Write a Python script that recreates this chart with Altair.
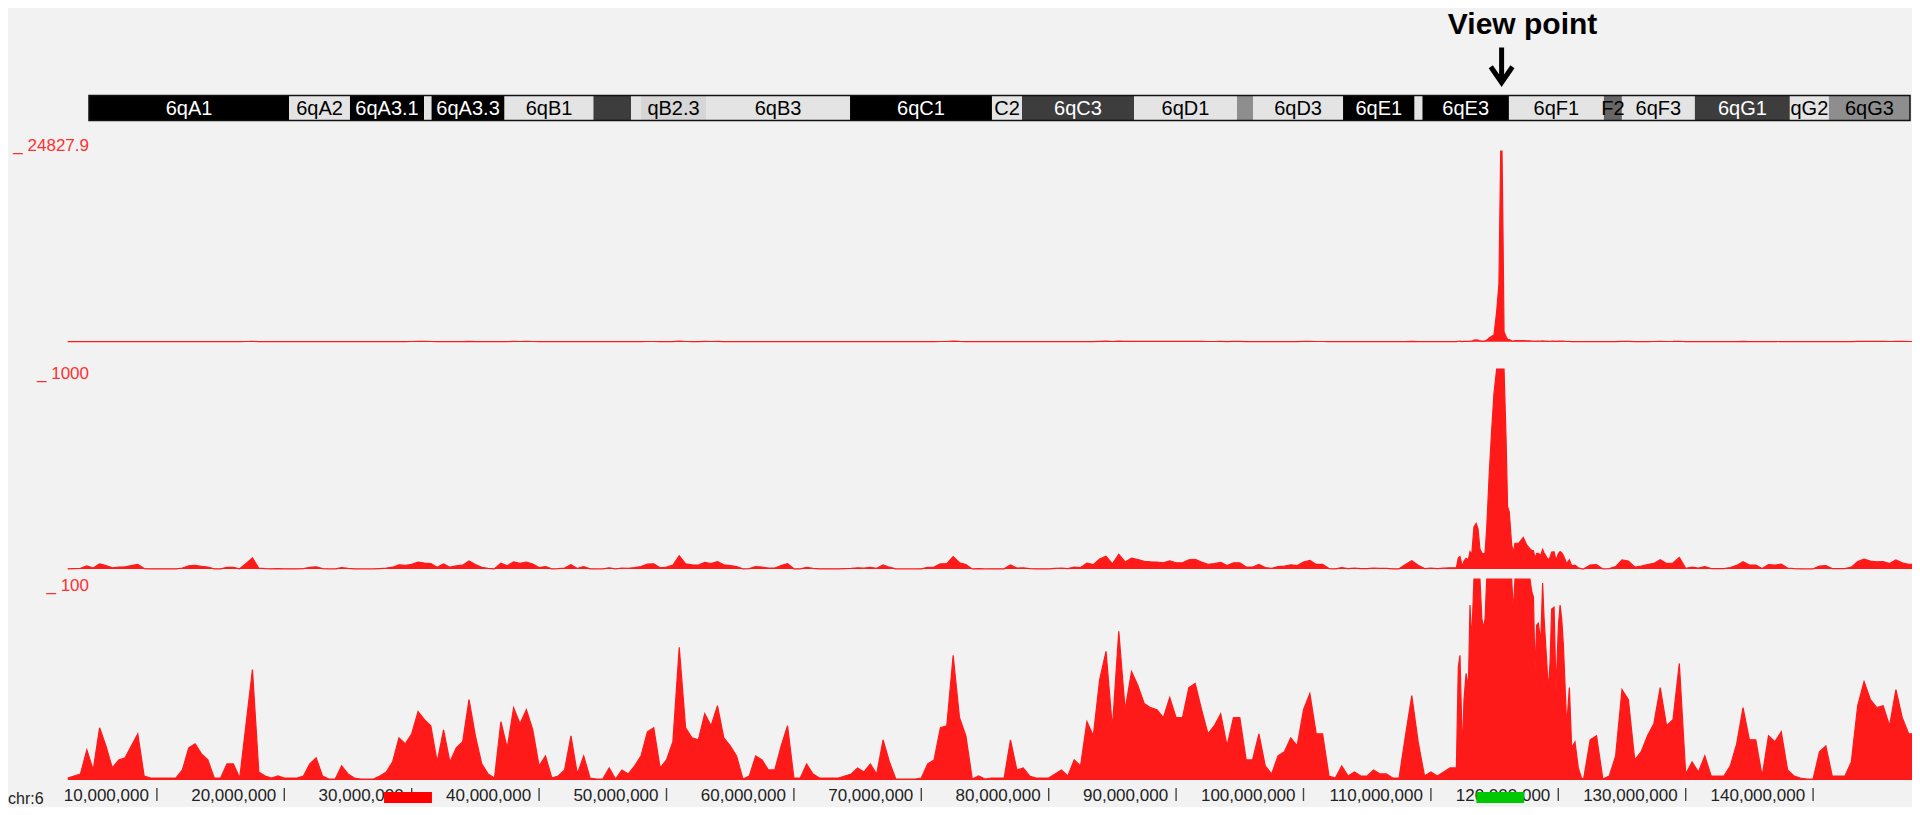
import altair as alt
import pandas as pd

# ---------------- data ----------------
CHR_LEN = 149.74  # Mb, chr6

# ideogram bands (Mb)
band_labels = ["6qA1", "6qA2", "6qA3.1", "", "6qA3.3", "6qB1", "", "", "qB2.3", "6qB3",
               "6qC1", "C2", "6qC3", "6qD1", "", "6qD3", "6qE1", "", "6qE3", "6qF1",
               "F2", "6qF3", "6qG1", "qG2", "6qG3"]
band_start = [0.0, 16.45, 21.46, 27.55, 28.17, 34.17, 41.48, 44.57, 45.39, 50.74,
              62.58, 74.25, 76.72, 85.93, 94.40, 95.72, 103.12, 109.0, 109.65, 116.76,
              124.57, 126.05, 132.05, 139.86, 143.07]
band_end = [16.45, 21.46, 27.55, 28.17, 34.17, 41.48, 44.57, 45.39, 50.74, 62.58,
            74.25, 76.72, 85.93, 94.40, 95.72, 103.12, 109.0, 109.65, 116.76, 124.57,
            126.05, 132.05, 139.86, 143.07, 149.74]
band_stain = ["gpos100", "gneg", "gpos100", "gneg", "gpos100", "gneg", "gpos75", "gneg", "gpos25", "gneg",
              "gpos100", "gneg", "gpos75", "gneg", "gpos50", "gneg", "gpos100", "gneg", "gpos100", "gneg",
              "gpos66", "gneg", "gpos75", "gneg", "gpos50"]

# 4C signal, 0.5 Mb bins from 3.0 Mb to 111.5 Mb
seg1_start = 3.0
bin_step = 0.5
seg1_vals = [1, 2, 3, 15, 5, 26, 17, 6, 10, 11,
             17, 23, 2, 1, 1, 1, 1, 1, 5, 16,
             18, 13, 10, 1, 1, 8, 8, 1, 28, 55,
             4, 2, 1, 2, 1, 1, 1, 2, 8, 11,
             2, 0.5, 0.5, 7, 3, 1, 0.5, 0.5, 0.5, 2,
             4, 9, 21, 18, 23, 34, 30, 27, 9, 25,
             9, 16, 19, 40, 22, 8, 3, 1, 29, 16,
             36, 28, 35,
             25, 7, 12, 1, 2, 5, 22, 3, 12, 1,
             0.5, 0.5, 6, 0.5, 5, 3, 7, 12, 24, 26,
             6, 10, 19, 66, 26, 21, 20, 33, 27, 37,
             21, 17, 12, 0.5, 2, 12, 10, 5, 5, 17,
             27, 1, 1, 8, 3, 1, 1, 1, 1, 2,
             3, 6, 4, 8, 3, 20, 9, 0.5, 0.5, 0.5,
             0.5, 1, 8, 10, 26, 27, 62, 31, 22, 0.5,
             2, 0.5,
             1, 1, 1, 20, 5, 6, 2, 1, 1, 1,
             3, 5, 2, 10, 7, 29, 22, 50, 64, 26,
             74, 35, 54, 47, 38, 36, 35, 31, 41, 31,
             31, 46, 48, 35, 23, 27, 33, 17, 31, 31,
             10, 10, 23, 7, 3, 12, 14, 21, 17, 35,
             43, 23, 23, 2, 1, 7, 2, 4, 2, 2,
             5, 3, 3, 1, 1, 22, 42, 19, 2, 4,
             2, 4, 6]

# finer sampling around the view point (Mb, value)
fine_pos = [112.00, 112.15, 112.28, 112.47, 112.60, 112.76, 112.94, 113.07, 113.20, 113.38,
            113.55, 113.70, 113.85, 114.00, 114.12, 114.25, 114.38, 114.58, 114.77, 114.95,
            115.16, 115.34, 115.48, 115.58, 115.64, 115.74, 115.90, 116.02, 116.15, 116.34,
            116.47, 116.60, 116.90, 117.25, 117.52, 117.78, 117.91, 118.05, 118.17, 118.30,
            118.43, 118.62, 118.77, 118.88, 119.03, 119.22, 119.35, 119.48, 119.67, 119.82,
            120.01, 120.14, 120.27, 120.40, 120.66, 120.87, 121.05, 121.31, 121.57, 121.84]
fine_vals = [6, 56, 62, 14, 40, 53, 46, 87, 69, 210,
             228, 200, 100, 80, 76, 80, 203, 478, 694, 877,
             3900, 7550, 24828, 24828, 17185, 1300, 652, 311, 286, 120,
             84, 128, 130, 158, 120, 100, 94, 91, 54, 77,
             78, 69, 98, 81, 65, 45, 58, 85, 86, 44,
             77, 87, 80, 67, 27, 46, 16, 19, 6, 0.5]

# 0.5 Mb bins from 122.0 Mb onwards
seg3_start = 122.0
seg3_vals = [1, 20, 22, 0.5, 2, 12, 45, 40, 10, 14,
             22, 28, 46, 27, 30, 58, 3, 9, 4, 12,
             2, 2, 2, 7, 18, 36, 20, 20, 2, 22,
             19, 24, 5, 2, 1, 0.5, 0.5, 14, 17, 2,
             2, 2, 9, 37, 49, 40, 36, 37, 27, 45,
             31, 23, 23]

track_max = [24827.9, 1000, 100]

tick_pos = [10, 20, 30, 40, 50, 60, 70, 80, 90, 100, 110, 120, 130, 140]
tick_text = ["10,000,000", "20,000,000", "30,000,000", "40,000,000", "50,000,000",
             "60,000,000", "70,000,000", "80,000,000", "90,000,000", "100,000,000",
             "110,000,000", "120,000,000", "130,000,000", "140,000,000"]

feat_start = [27.83, 113.57]
feat_end = [31.59, 117.31]
feat_kind = ["other", "viewpoint"]

viewpoint = 115.55

# ---------------- build ----------------
W, H = 1904, 799
RED = "#ff1a1a"
FONT = "Liberation Sans"

pos = [seg1_start + bin_step * i for i in range(len(seg1_vals))] + fine_pos + \
      [seg3_start + bin_step * i for i in range(len(seg3_vals))]
vals = seg1_vals + fine_vals + seg3_vals
sig = pd.DataFrame({"pos": pos, "val": vals})

xs = alt.Scale(domain=[-1.6876, 147.763], range=[0, W], nice=False, zero=False)
ixs = alt.Scale(domain=[0, CHR_LEN], range=[81, 1902], nice=False, zero=False)

stain_dom = ["gpos100", "gpos75", "gpos66", "gpos50", "gpos25", "gneg"]
stain_fill = ["#000000", "#3d3d3d", "#666666", "#8e8e8e", "#d6d6d6", "#e4e4e4"]
stain_text = ["#ffffff", "#ffffff", "#000000", "#000000", "#000000", "#000000"]

ideo = pd.DataFrame({"label": band_labels, "start": band_start, "end": band_end, "stain": band_stain})

ideo_rect = alt.Chart(ideo).mark_rect().encode(
    x=alt.X("start:Q", scale=ixs, axis=None), x2="end:Q",
    y=alt.value(87.5), y2=alt.value(112.5),
    color=alt.Color("stain:N", scale=alt.Scale(domain=stain_dom, range=stain_fill), legend=None))

ideo_text = alt.Chart(ideo).transform_filter("datum.label != ''").transform_calculate(
    mid="(datum.start + datum.end) / 2").mark_text(
    font=FONT, fontSize=20, baseline="alphabetic", align="center").encode(
    x=alt.X("mid:Q", scale=ixs, axis=None), y=alt.value(107),
    text="label:N",
    color=alt.Color("stain:N", scale=alt.Scale(domain=stain_dom, range=stain_text), legend=None))

ideo_box = alt.Chart(pd.DataFrame({"s": [0.0], "e": [CHR_LEN]})).mark_rect(
    filled=False, stroke="#111111", strokeWidth=1.5).encode(
    x=alt.X("s:Q", scale=ixs, axis=None), x2="e:Q",
    y=alt.value(87.5), y2=alt.value(112.5))


def track(vmax, base, top, label, label_y):
    ys = alt.Scale(domain=[0, vmax], range=[base, top], clamp=True, nice=False, zero=True)
    area = alt.Chart(sig).mark_area(
        color=RED, interpolate="linear", clip=True, opacity=1,
        line={"color": RED, "strokeWidth": 1.2}).encode(
        x=alt.X("pos:Q", scale=xs, axis=None),
        y=alt.Y("val:Q", scale=ys, axis=None))
    lab = alt.Chart(pd.DataFrame({"t": ["_ " + label]})).mark_text(
        font=FONT, fontSize=17, color="#ff3030", align="right", baseline="middle").encode(
        text="t:N", x=alt.value(81), y=alt.value(label_y))
    return [area, lab]


layers = [ideo_rect, ideo_text, ideo_box]
layers += track(track_max[0], 333.7, 143, "24827.9", 138)
layers += track(track_max[1], 561, 361, "1000", 366)
layers += track(track_max[2], 772, 571, "100", 578)

ticks = pd.DataFrame({"pos": tick_pos, "t": tick_text})
tick_lab = alt.Chart(ticks).mark_text(
    font=FONT, fontSize=17, color="#222222", align="right", baseline="alphabetic", dx=-8).encode(
    x=alt.X("pos:Q", scale=xs, axis=None), y=alt.value(793), text="t:N")
tick_rule = alt.Chart(ticks).mark_rule(color="#444444", strokeWidth=1.4).encode(
    x=alt.X("pos:Q", scale=xs, axis=None), y=alt.value(780), y2=alt.value(793))
chr_lab = alt.Chart(pd.DataFrame({"t": ["chr:6"]})).mark_text(
    font=FONT, fontSize=16, color="#222222", align="left", baseline="alphabetic").encode(
    text="t:N", x=alt.value(0), y=alt.value(796))

feats = pd.DataFrame({"s": feat_start, "e": feat_end, "k": feat_kind})
feat_rect = alt.Chart(feats).mark_rect().encode(
    x=alt.X("s:Q", scale=xs, axis=None), x2="e:Q",
    y=alt.value(784), y2=alt.value(795),
    color=alt.Color("k:N", scale=alt.Scale(domain=["other", "viewpoint"], range=["#ff0000", "#00c800"]),
                    legend=None))

vp = pd.DataFrame({"pos": [viewpoint], "t": ["View point"]})
vp_text = alt.Chart(vp).mark_text(
    font=FONT, fontSize=30, fontWeight="bold", color="#000000", align="center",
    baseline="alphabetic", dx=21).encode(
    x=alt.X("pos:Q", scale=xs, axis=None), y=alt.value(26), text="t:N")
vp_arrow = alt.Chart(vp).mark_point(
    shape="M0,-1L0,0.9M-0.62,0.1L0,1L0.62,0.1", size=1225, filled=False,
    stroke="#000000", strokeWidth=5, opacity=1, strokeJoin="miter").encode(
    x=alt.X("pos:Q", scale=xs, axis=None), y=alt.value(57))

layers += [tick_lab, tick_rule, chr_lab, feat_rect, vp_text, vp_arrow]

chart = alt.layer(*layers).resolve_scale(
    x="independent", y="independent", color="independent").properties(
    width=W, height=H, autosize="none", padding=0, background="#f2f2f2").configure_view(stroke=None)

chart.save("out.html", embed_options={"renderer": "svg", "actions": False})
